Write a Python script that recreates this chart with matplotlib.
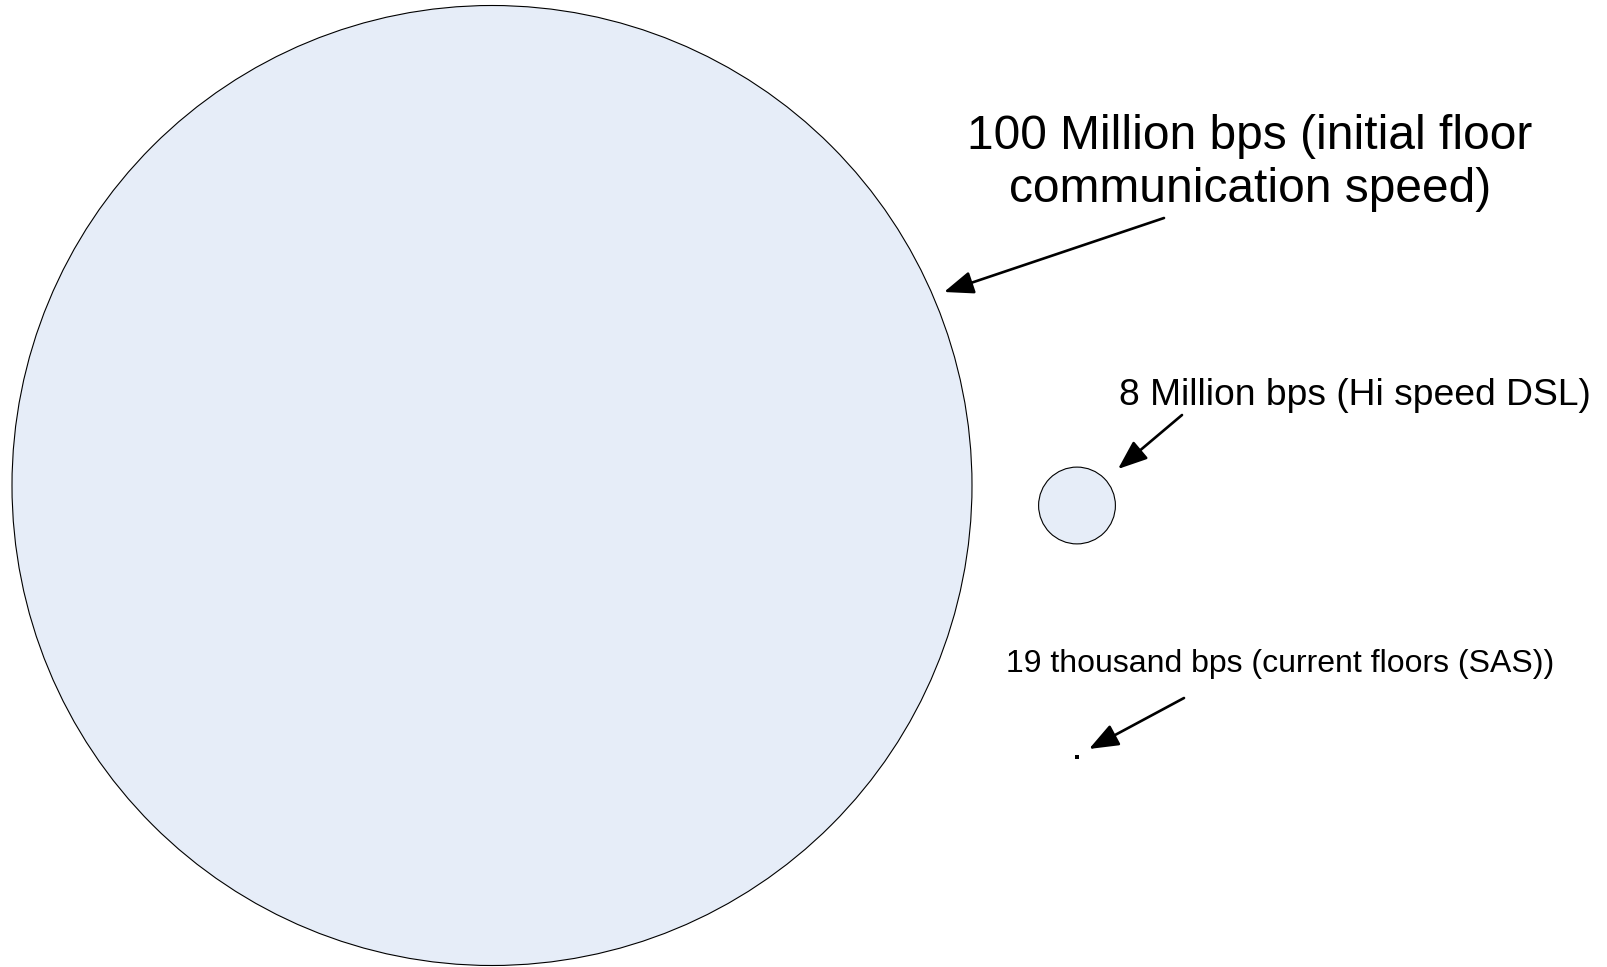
import matplotlib
matplotlib.use("Agg")
import matplotlib.pyplot as plt
from matplotlib.patches import Circle

plt.rcParams['font.family'] = ['Liberation Sans', 'DejaVu Sans']

# speeds in bits per second
speeds = [100_000_000, 8_000_000, 19_000]
labels = [
    ["100 Million bps (initial floor", "communication speed)"],
    ["8 Million bps (Hi speed DSL)"],
    ["19 thousand bps (current floors (SAS))"],
]

# layout (pixel space, y down)
px_per_bps = 480 / 1e8
centers = [(492, 485.5), (1077, 505.5), (1077, 757)]
label_pos = [(1250, 149), (1119, 405), (1006, 672)]
label_ha = ['center', 'left', 'left']
label_size = [34.5, 26.8, 23]
arrow_tail = [(1164, 218), (1182, 415), (1184, 698)]
arrow_tip = [(944, 292), (1118, 469), (1089, 749)]

fig = plt.figure(figsize=(16.08, 9.67), dpi=100)
ax = fig.add_axes([0, 0, 1, 1])
ax.set_xlim(0, 1608)
ax.set_ylim(967, 0)
ax.axis('off')

for s, c in zip(speeds, centers):
    r = s * px_per_bps
    if r > 2:
        ax.add_patch(Circle(c, r, facecolor='#e6edf8', edgecolor='black',
                            linewidth=0.8, zorder=2))
    else:
        # too small to see as a circle, show as a dot
        ax.plot(c[0], c[1], 's', ms=2.3, color='black', mew=0, zorder=2)

for lines, (x, y), ha, fs in zip(labels, label_pos, label_ha, label_size):
    for i, line in enumerate(lines):
        ax.text(x, y + i * 53, line, ha=ha, va='baseline', fontsize=fs, color='black')

for tail, tip in zip(arrow_tail, arrow_tip):
    ax.annotate('', xy=tip, xytext=tail,
                arrowprops=dict(arrowstyle='-|>,head_length=0.9,head_width=0.35',
                                mutation_scale=20, lw=1.9, color='black',
                                shrinkA=0, shrinkB=0))

fig.savefig('out.png', dpi=100)
